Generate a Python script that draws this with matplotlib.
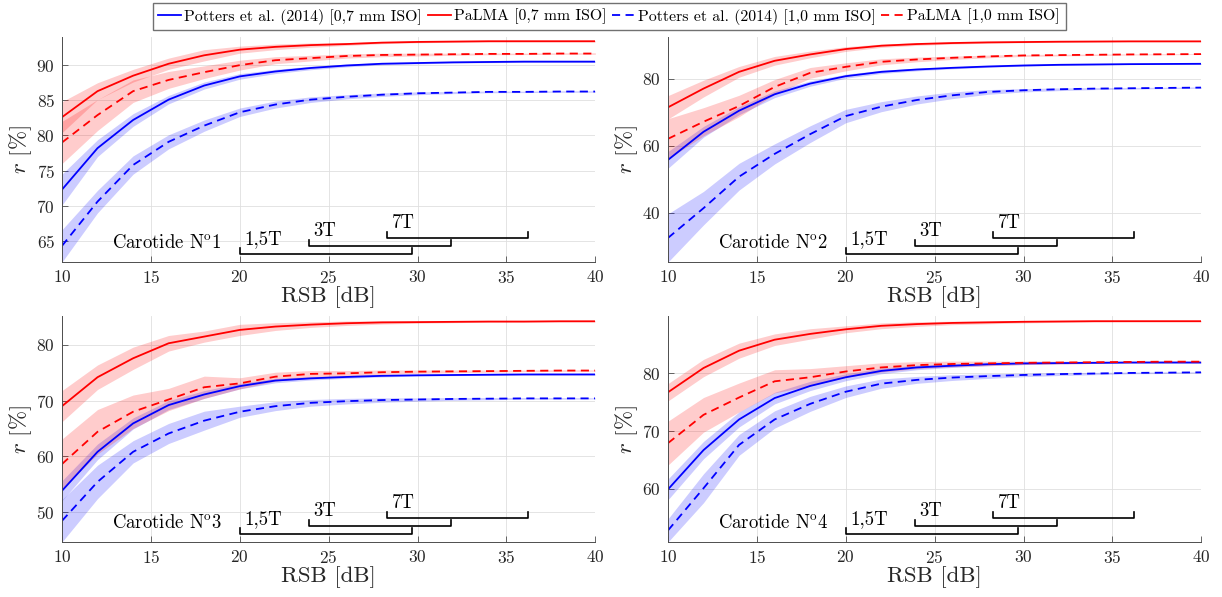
import numpy as np
import matplotlib
matplotlib.use("Agg")
import matplotlib.pyplot as plt
import matplotlib.transforms as mtransforms

# ── Daten ──────────────────────────────────────────────────────────────────

snr = [10, 12, 14, 16, 18, 20, 22, 24, 26, 28, 30, 32, 34, 36, 38, 40]

# Carotide 1
pot07_1 = [72.3, 78.2, 82.2, 85.1, 87.1, 88.4, 89.1, 89.6, 89.95, 90.2, 90.3, 90.4, 90.45, 90.5, 90.5, 90.5]
pal07_1 = [82.6, 86.3, 88.5, 90.2, 91.4, 92.2, 92.6, 92.85, 93.0, 93.2, 93.3, 93.35, 93.4, 93.4, 93.4, 93.4]
pot10_1 = [64.3, 70.6, 75.8, 79.1, 81.4, 83.3, 84.4, 85.1, 85.5, 85.8, 86.0, 86.1, 86.2, 86.2, 86.25, 86.25]
pal10_1 = [79.0, 82.9, 86.3, 87.9, 89.0, 90.0, 90.7, 91.0, 91.3, 91.45, 91.5, 91.55, 91.6, 91.6, 91.65, 91.65]
sd_pot07_1 = [2.2, 1.2, 0.9, 0.6, 0.5, 0.4, 0.3, 0.25, 0.2, 0.15, 0.12, 0.1, 0.1, 0.1, 0.1, 0.1]
sd_pal07_1 = [2.2, 1.2, 0.9, 0.8, 0.8, 0.5, 0.4, 0.3, 0.2, 0.15, 0.12, 0.1, 0.1, 0.1, 0.1, 0.1]
sd_pot10_1 = [2.3, 1.6, 1.3, 1.0, 0.8, 0.6, 0.5, 0.4, 0.3, 0.25, 0.2, 0.15, 0.12, 0.1, 0.1, 0.1]
sd_pal10_1 = [3.0, 2.2, 1.6, 1.2, 0.9, 0.7, 0.5, 0.4, 0.3, 0.25, 0.2, 0.15, 0.12, 0.1, 0.1, 0.1]

# Carotide 2
pot07_2 = [55.7, 64.1, 70.4, 75.3, 78.5, 80.7, 82.0, 82.7, 83.2, 83.6, 83.9, 84.1, 84.2, 84.3, 84.35, 84.4]
pal07_2 = [71.4, 77.0, 82.0, 85.3, 87.2, 88.8, 89.8, 90.3, 90.6, 90.8, 90.9, 91.0, 91.05, 91.1, 91.1, 91.1]
pot10_2 = [32.4, 41.3, 50.7, 57.5, 63.4, 68.8, 71.6, 73.6, 75.0, 76.0, 76.5, 76.8, 77.0, 77.1, 77.2, 77.3]
pal10_2 = [62.0, 67.1, 71.8, 77.5, 81.7, 83.5, 85.0, 85.7, 86.2, 86.6, 86.9, 87.0, 87.1, 87.2, 87.25, 87.3]
sd_pot07_2 = [2.5, 1.6, 1.2, 1.0, 0.8, 0.6, 0.5, 0.4, 0.3, 0.25, 0.2, 0.15, 0.12, 0.1, 0.1, 0.1]
sd_pal07_2 = [3.5, 2.5, 1.6, 1.3, 1.0, 0.7, 0.5, 0.4, 0.3, 0.25, 0.2, 0.15, 0.12, 0.1, 0.1, 0.1]
sd_pot10_2 = [7.2, 5.0, 4.0, 3.0, 2.5, 2.0, 1.5, 1.2, 1.0, 0.7, 0.5, 0.4, 0.3, 0.25, 0.2, 0.2]
sd_pal10_2 = [6.0, 4.2, 3.2, 2.2, 1.6, 1.2, 0.9, 0.7, 0.5, 0.4, 0.3, 0.25, 0.2, 0.15, 0.15, 0.1]

# Carotide 3
pot07_3 = [53.8, 60.8, 65.9, 69.2, 71.1, 72.6, 73.6, 74.0, 74.25, 74.45, 74.55, 74.6, 74.65, 74.7, 74.7, 74.7]
pal07_3 = [69.0, 74.2, 77.6, 80.3, 81.5, 82.7, 83.3, 83.65, 83.9, 84.05, 84.1, 84.15, 84.2, 84.2, 84.25, 84.25]
pot10_3 = [48.4, 55.4, 60.8, 64.1, 66.4, 68.0, 69.0, 69.6, 69.9, 70.1, 70.2, 70.3, 70.35, 70.4, 70.4, 70.4]
pal10_3 = [58.6, 64.4, 68.0, 70.2, 72.4, 73.1, 74.3, 74.8, 74.9, 75.1, 75.2, 75.25, 75.3, 75.35, 75.4, 75.4]
sd_pot07_3 = [1.8, 1.4, 1.0, 0.8, 0.7, 0.5, 0.4, 0.3, 0.25, 0.2, 0.15, 0.12, 0.1, 0.1, 0.1, 0.1]
sd_pal07_3 = [2.8, 2.2, 2.0, 1.4, 1.0, 1.0, 0.7, 0.5, 0.4, 0.3, 0.2, 0.15, 0.12, 0.1, 0.1, 0.1]
sd_pot10_3 = [3.8, 3.0, 2.0, 1.8, 1.7, 1.0, 0.8, 0.6, 0.5, 0.4, 0.3, 0.25, 0.2, 0.15, 0.15, 0.1]
sd_pal10_3 = [4.5, 4.0, 3.0, 2.0, 2.0, 1.0, 0.8, 0.6, 0.5, 0.4, 0.3, 0.25, 0.2, 0.15, 0.15, 0.1]

# Carotide 4
pot07_4 = [59.9, 66.7, 72.0, 75.7, 77.8, 79.3, 80.4, 81.0, 81.3, 81.55, 81.7, 81.75, 81.8, 81.85, 81.85, 81.85]
pal07_4 = [76.7, 80.9, 83.9, 85.8, 86.8, 87.6, 88.2, 88.5, 88.7, 88.8, 88.9, 88.95, 89.0, 89.0, 89.0, 89.0]
pot10_4 = [52.8, 60.1, 67.6, 72.0, 74.7, 76.8, 78.2, 78.85, 79.25, 79.5, 79.7, 79.85, 79.95, 80.05, 80.1, 80.15]
pal10_4 = [67.9, 72.8, 75.8, 78.6, 79.3, 80.3, 81.0, 81.4, 81.6, 81.7, 81.8, 81.85, 81.9, 81.95, 82.0, 82.0]
sd_pot07_4 = [1.8, 1.5, 1.3, 1.0, 0.8, 0.6, 0.5, 0.4, 0.3, 0.25, 0.2, 0.15, 0.12, 0.1, 0.1, 0.1]
sd_pal07_4 = [1.5, 1.5, 1.3, 1.0, 0.9, 0.6, 0.5, 0.4, 0.3, 0.25, 0.2, 0.15, 0.12, 0.1, 0.1, 0.1]
sd_pot10_4 = [2.0, 2.5, 1.8, 1.5, 1.3, 1.0, 0.8, 0.6, 0.5, 0.4, 0.3, 0.25, 0.2, 0.15, 0.15, 0.1]
sd_pal10_4 = [3.8, 3.0, 2.5, 2.0, 1.5, 1.0, 0.8, 0.6, 0.5, 0.4, 0.3, 0.25, 0.2, 0.15, 0.15, 0.1]

series_labels = ["Potters et al. (2014) [0,7 mm ISO]", "PaLMA [0,7 mm ISO]",
                 "Potters et al. (2014) [1,0 mm ISO]", "PaLMA [1,0 mm ISO]"]

# typische RSB-Bereiche je Feldstärke
field_labels = ["1,5T", "3T", "7T"]
field_ranges = [(20.0, 29.7), (23.9, 31.9), (28.3, 36.2)]

panels = [
    ([pot07_1, pal07_1, pot10_1, pal10_1], [sd_pot07_1, sd_pal07_1, sd_pot10_1, sd_pal10_1], (62.0, 94.0), [65, 70, 75, 80, 85, 90]),
    ([pot07_2, pal07_2, pot10_2, pal10_2], [sd_pot07_2, sd_pal07_2, sd_pot10_2, sd_pal10_2], (25.2, 92.4), [40, 60, 80]),
    ([pot07_3, pal07_3, pot10_3, pal10_3], [sd_pot07_3, sd_pal07_3, sd_pot10_3, sd_pal10_3], (44.6, 85.2), [50, 60, 70, 80]),
    ([pot07_4, pal07_4, pot10_4, pal10_4], [sd_pot07_4, sd_pal07_4, sd_pot10_4, sd_pal10_4], (50.8, 89.9), [60, 70, 80]),
]

# ── Stil ───────────────────────────────────────────────────────────────────

plt.rcParams["font.family"] = "cmr10"
plt.rcParams["mathtext.fontset"] = "cm"
plt.rcParams["axes.formatter.use_mathtext"] = True
plt.rcParams["axes.unicode_minus"] = False

colors = ["#0000ff", "#ff0000", "#0000ff", "#ff0000"]
dash = (0, (4.5, 3))
styles = ["-", "-", dash, dash]
axis_grey = "#262626"

fig = plt.figure(figsize=(12.22, 5.97), dpi=100)
positions = [
    [0.0507, 0.561, 0.4365, 0.377],
    [0.5466, 0.561, 0.4365, 0.377],
    [0.0507, 0.0921, 0.4365, 0.3786],
    [0.5466, 0.0921, 0.4365, 0.3786],
]

x = np.array(snr)
handles = []
for k, (means, sds, ylim, yticks) in enumerate(panels):
    ax = fig.add_axes(positions[k])
    for i in range(4):
        m = np.array(means[i])
        s = np.array(sds[i])
        ax.fill_between(x, m - s, m + s, color=colors[i], alpha=0.2, linewidth=0)
    for i in range(4):
        h, = ax.plot(x, means[i], color=colors[i], linestyle=styles[i], linewidth=1.3,
                     label=series_labels[i])
        if k == 0:
            handles.append(h)

    ax.set_xlim(10, 40)
    ax.set_ylim(*ylim)
    ax.set_xticks([10, 15, 20, 25, 30, 35, 40])
    ax.set_yticks(yticks)
    ax.grid(True, color="#dfdfdf", linewidth=0.6)
    ax.set_axisbelow(True)
    for side in ["top", "right"]:
        ax.spines[side].set_visible(False)
    for side in ["left", "bottom"]:
        ax.spines[side].set_color("#4d4d4d")
        ax.spines[side].set_linewidth(0.7)
    ax.tick_params(direction="in", length=4, width=0.6, color="#4d4d4d",
                   labelsize=12.5, labelcolor=axis_grey, pad=5)
    ax.set_xlabel("RSB [dB]", fontsize=16.5, color=axis_grey, labelpad=0)
    ax.set_ylabel(r"$r$ [%]", fontsize=16.5, color=axis_grey, labelpad=2)

    # Feldstärke-Klammern (x in Daten, y in Achsenanteil)
    trans = mtransforms.blended_transform_factory(ax.transData, ax.transAxes)
    base = [0.037, 0.072, 0.108]
    for j, (x0, x1) in enumerate(field_ranges):
        y0 = base[j]
        ax.plot([x0, x0, x1, x1], [y0 + 0.025, y0, y0, y0 + 0.025], color="black",
                linewidth=1.2, transform=trans, clip_on=False)
        ax.text(x0 + 0.25, y0 + 0.042, field_labels[j], fontsize=13.5, transform=trans,
                ha="left", va="baseline")
    ax.text(12.8, 0.062, r"Carotide N$^{\rm o}$%d" % (k + 1), fontsize=13.5,
            transform=trans, ha="left", va="baseline")

fig.legend(handles, series_labels, loc="upper center", bbox_to_anchor=(0.4985, 0.995),
           ncol=4, fontsize=11.4, frameon=True, fancybox=False, edgecolor="#4d4d4d",
           handlelength=1.45, handletextpad=0.2, columnspacing=0.35, borderpad=0.35,
           borderaxespad=0.0)

fig.savefig("out.png", dpi=100)
